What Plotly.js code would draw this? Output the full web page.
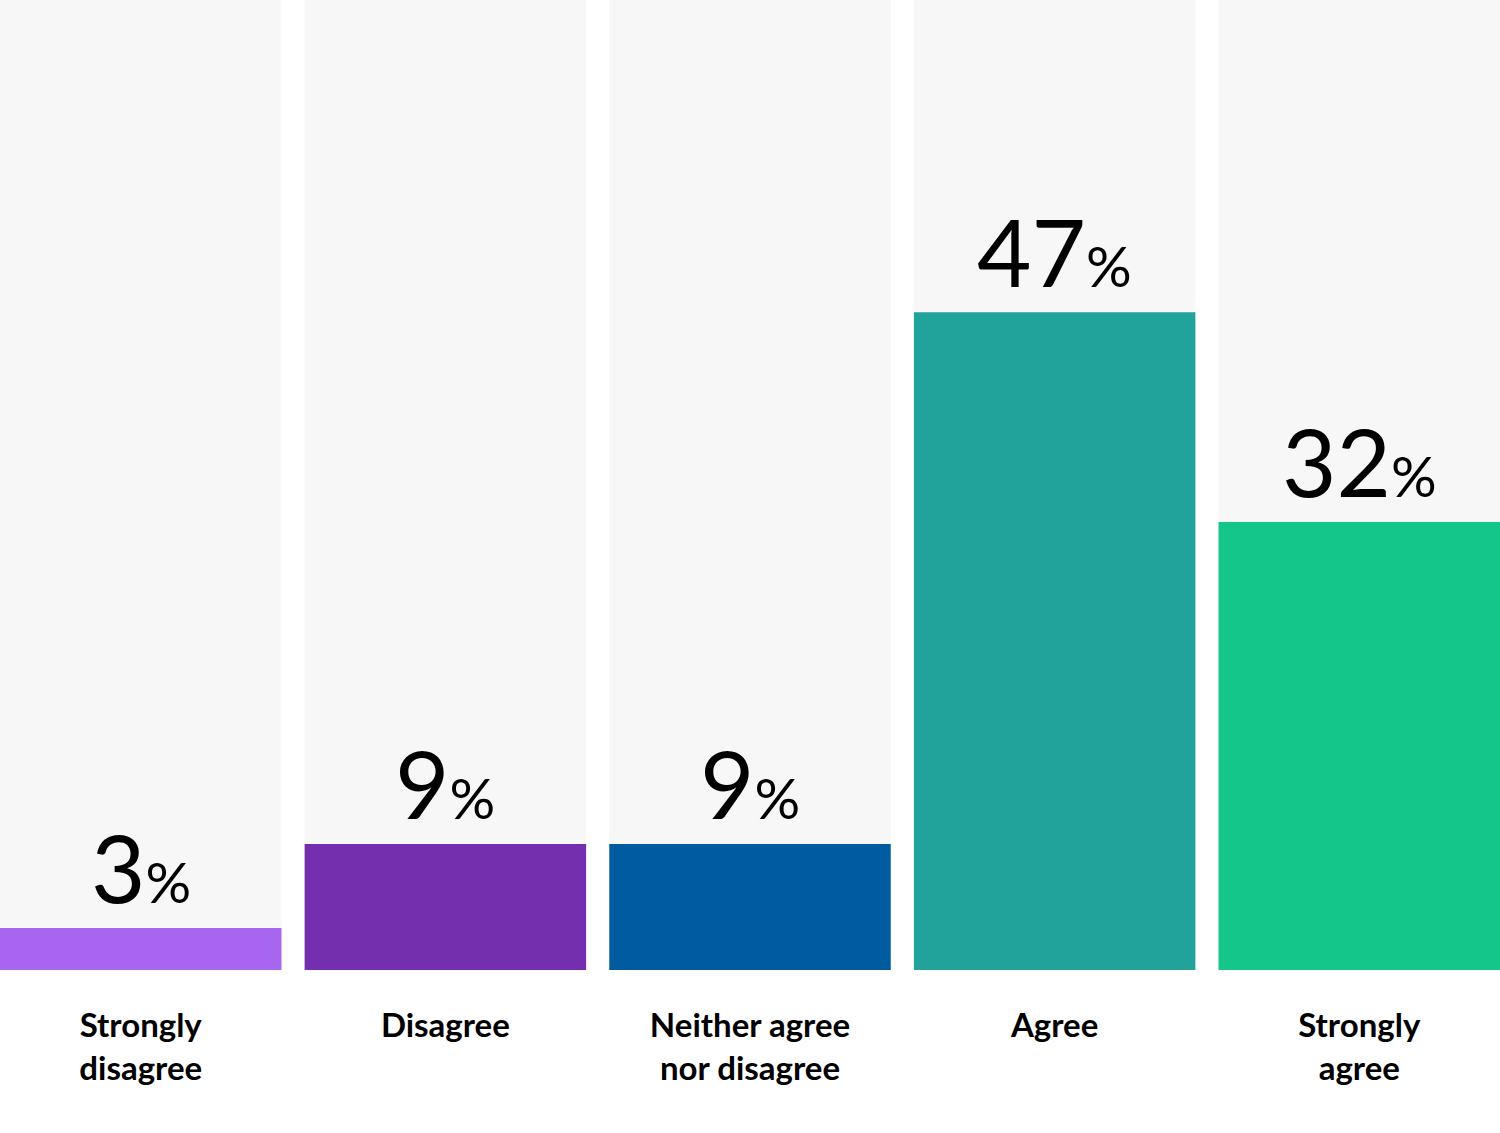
<!DOCTYPE html>
<html>
<head>
<meta charset="utf-8">
<script src="https://cdn.plot.ly/plotly-3.0.1.min.js"></script>
<style>
  html, body { margin: 0; padding: 0; background: #fff; }
  #plot { width: 1500px; height: 1133px; }
</style>
</head>
<body>
<div id="plot"></div>
<script>
// Survey answers, share of respondents
let categories = ['Strongly<br>disagree', 'Disagree', 'Neither agree<br>nor disagree', 'Agree', 'Strongly<br>agree']
let values = [3, 9, 9, 47, 32]
let colors = ['#a866f0', '#732fad', '#005c9e', '#21a39b', '#14c68a']
let track_max = 69.3

let plot_div = document.getElementById('plot')
let xs = [0, 1, 2, 3, 4]

let track = {
  x : xs,
  y : xs.map(() => track_max),
  type : 'bar',
  marker : {color : '#f7f7f7'},
  hoverinfo : 'skip'
}

let bars = {
  x : xs,
  y : values,
  type : 'bar',
  marker : {color : colors},
  hoverinfo : 'skip'
}

// Big numbers above each bar, with a smaller % sign
let annotations = values.map((v, i) => ({
  x : i,
  y : v,
  xref : 'x',
  yref : 'y',
  yanchor : 'bottom',
  showarrow : false,
  yshift : 3,
  text : v + '<span style="font-size:57px">%</span>',
  font : {family : 'Lato, sans-serif', size : 94, color : '#000'}
}))

let layout = {
  width : 1500,
  height : 1133,
  margin : {l : 0, r : 0, t : 0, b : 163},
  barmode : 'overlay',
  bargap : 0.076,
  showlegend : false,
  paper_bgcolor : '#fff',
  plot_bgcolor : '#fff',
  xaxis : {
    range : [-0.462, 4.462],
    tickmode : 'array',
    tickvals : xs,
    ticktext : categories,
    ticks : '',
    showgrid : false,
    zeroline : false,
    showline : false,
    ticklabelstandoff : 33,
    tickfont : {family : 'Lato, sans-serif', size : 33, color : '#000', weight : 'bold'}
  },
  yaxis : {
    range : [0, track_max],
    visible : false,
    showgrid : false,
    zeroline : false
  },
  annotations : annotations
}

Plotly.newPlot(plot_div, [track, bars], layout, {staticPlot : true})
</script>
</body>
</html>
